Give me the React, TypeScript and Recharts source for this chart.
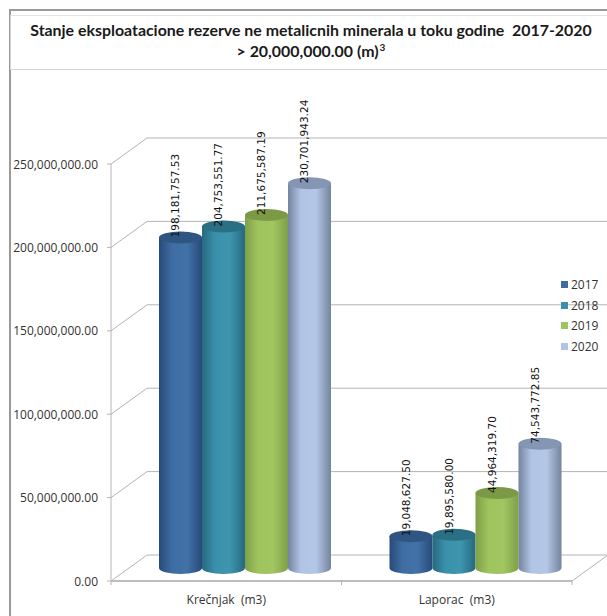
import React from "react";
import { BarChart, Bar, XAxis, YAxis, CartesianGrid, Legend, LabelList } from "recharts";

const categories = ["Krečnjak  (m3)", "Laporac  (m3)"];
const years = ["2017", "2018", "2019", "2020"];
const values2017 = [198181757.53, 19048627.5];
const values2018 = [204753551.77, 19895580.0];
const values2019 = [211675587.19, 44964319.7];
const values2020 = [230701943.24, 74543772.85];
const yTicks = [0, 50000000, 100000000, 150000000, 200000000, 250000000];

const seriesValues = [values2017, values2018, values2019, values2020];
const data = categories.map((name, i) => ({
  name,
  "2017": seriesValues[0][i],
  "2018": seriesValues[1][i],
  "2019": seriesValues[2][i],
  "2020": seriesValues[3][i],
}));

// cylinder colours: edge, mid, light, top
const COLORS: Record<string, string[]> = {
  "2017": ["#274a78", "#3f6da3", "#4272a8", "#2f5682"],
  "2018": ["#26697f", "#3a90aa", "#3d96ae", "#2b6f84"],
  "2019": ["#7f9f48", "#9ec45e", "#a2c662", "#7c9a46"],
  "2020": ["#74849f", "#b0c4e4", "#b4c7e6", "#8496b4"],
};

const FONT = "'Open Sans', sans-serif";
const DEPTH_X = 36;
const DEPTH_Y = 26;
const GRID = "#b4b4b4";
const TICK_GAP = 8; // recharts puts tick props this far off the axis line

const money = (v: number) =>
  v.toLocaleString("en-US", { minimumFractionDigits: 2, maximumFractionDigits: 2 });

function Cylinder(props: any) {
  const { x, y, width, height, dataKey } = props;
  const c = COLORS[dataKey];
  const left = x + DEPTH_X / 2;
  const top = y - DEPTH_Y / 2;
  const rx = width / 2;
  const ry = 6;
  const bottom = top + height;
  return (
    <g>
      <path
        d={`M${left},${top} L${left},${bottom} A${rx},${ry} 0 0 0 ${left + width},${bottom} L${left + width},${top} Z`}
        fill={`url(#cyl${dataKey})`}
      />
      <ellipse cx={left + rx} cy={top} rx={rx} ry={ry} fill={c[3]} />
    </g>
  );
}

function ValueLabel(props: any) {
  const { x, y, width, value } = props;
  const cx = x + DEPTH_X / 2 + width / 2 - 5;
  const top = y - DEPTH_Y / 2;
  return (
    <text
      x={cx}
      y={top}
      transform={`rotate(-90 ${cx} ${top})`}
      fontFamily="'DejaVu Sans', sans-serif"
      fontSize={10.5}
      fill="#111"
      dominantBaseline="central"
    >
      {money(value)}
    </text>
  );
}

function BackLine(props: any) {
  const { x1, x2, y1 } = props;
  return (
    <g stroke={GRID} strokeWidth={1} fill="none">
      <path d={`M${x1},${y1} L${x1 + DEPTH_X},${y1 - DEPTH_Y} L${x2 + DEPTH_X},${y1 - DEPTH_Y}`} />
    </g>
  );
}

function YTick(props: any) {
  const { x, y, payload } = props;
  const axisX = x + TICK_GAP;
  return (
    <g>
      <line x1={axisX - 4} x2={axisX} y1={y} y2={y} stroke={GRID} />
      <text x={axisX - 13} y={y} textAnchor="end" dominantBaseline="central" fontFamily={FONT} fontSize={12} fill="#333">
        {money(payload.value)}
      </text>
    </g>
  );
}

function XTick(props: any) {
  const { x, y, payload, index } = props;
  const half = 461 / categories.length / 2;
  const last = index === categories.length - 1;
  const axisY = y - TICK_GAP;
  return (
    <g>
      <line x1={x - half} x2={x - half} y1={axisY} y2={axisY + 4} stroke={GRID} />
      {last && <line x1={x + half} x2={x + half} y1={axisY} y2={axisY + 4} stroke={GRID} />}
      {last && <line x1={x + half} x2={x + half + DEPTH_X} y1={axisY} y2={axisY - DEPTH_Y} stroke={GRID} />}
      <text x={x} y={axisY + 18} textAnchor="middle" dominantBaseline="central" fontFamily={FONT} fontSize={12} fill="#333" style={{ whiteSpace: "pre" }}>
        {payload.value}
      </text>
    </g>
  );
}

function YearLegend(props: any) {
  return (
    <div style={{ width: 0, whiteSpace: "nowrap" }}>
      {props.payload.map((p: any) => (
        <div key={p.value} style={{ display: "flex", alignItems: "center", height: 20.7, fontFamily: FONT, fontSize: 12, color: "#333" }}>
          <span style={{ flex: "none", width: 7, height: 7, background: COLORS[p.value][1], marginRight: 3 }} />
          {p.value}
        </div>
      ))}
    </div>
  );
}

export default function App() {
  return (
    <div style={{ position: "fixed", left: 0, top: 0, width: 607, height: 616, background: "#fff", overflow: "hidden" }}>
      <div style={{ position: "absolute", left: 9, top: 9, width: 620, height: 640, borderLeft: "2px solid #9a9a9a", borderTop: "2px solid #9a9a9a" }} />
      <div
        style={{
          position: "absolute",
          left: 10,
          top: 15,
          width: 620,
          height: 53,
          borderTop: "1px solid #e4e4e4",
          borderBottom: "1px solid #d4d4d4",
          borderLeft: "1px solid #d4d4d4",
        }}
      />
      <div
        style={{
          position: "absolute",
          left: 10,
          width: 602,
          top: 19,
          textAlign: "center",
          fontFamily: "Lato, sans-serif",
          fontWeight: 700,
          fontSize: 15.9,
          lineHeight: "21px",
          color: "#1a1a1a",
          whiteSpace: "pre",
        }}
      >
        {"Stanje eksploatacione rezerve ne metalicnih minerala u toku godine  2017-2020\n> 20,000,000.00 (m)"}
        <span style={{ fontSize: 10, position: "relative", top: -6, marginLeft: 1 }}>3</span>
      </div>
      <div style={{ position: "absolute", left: 0, top: 0 }}>
        <BarChart
          width={607}
          height={616}
          data={data}
          margin={{ top: 164, right: 35, bottom: 0, left: 0 }}
          barCategoryGap={30}
          barGap={0}
        >
          <defs>
            {years.map((yr) => (
              <linearGradient key={yr} id={`cyl${yr}`} x1="0" y1="0" x2="1" y2="0">
                <stop offset="0%" stopColor={COLORS[yr][0]} />
                <stop offset="30%" stopColor={COLORS[yr][1]} />
                <stop offset="65%" stopColor={COLORS[yr][2]} />
                <stop offset="100%" stopColor={COLORS[yr][0]} />
              </linearGradient>
            ))}
          </defs>
          <CartesianGrid vertical={false} horizontal={BackLine} />
          <XAxis
            dataKey="name"
            height={35}
            tickLine={false}
            axisLine={{ stroke: "#bdbdbd", strokeWidth: 2 }}
            tick={XTick}
            interval={0}
          />
          <YAxis
            width={111}
            domain={[0, 250000000]}
            ticks={yTicks}
            tickLine={false}
            axisLine={{ stroke: GRID }}
            tick={YTick}
          />
          <Legend
            layout="vertical"
            align="right"
            verticalAlign="top"
            content={YearLegend}
            wrapperStyle={{ left: 561, top: 274, width: 0 }}
          />
          {years.map((yr) => (
            <Bar key={yr} dataKey={yr} fill={COLORS[yr][1]} shape={Cylinder} isAnimationActive={false}>
              <LabelList dataKey={yr} content={ValueLabel} />
            </Bar>
          ))}
        </BarChart>
      </div>
    </div>
  );
}
